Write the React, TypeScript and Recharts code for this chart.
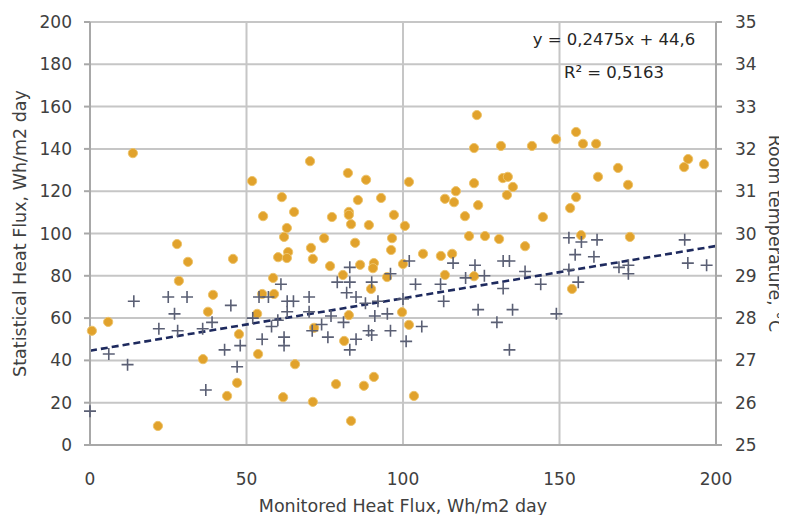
import React from "react";
import {
  ScatterChart,
  Scatter,
  XAxis,
  YAxis,
  CartesianGrid,
  ReferenceLine,
  Label,
} from "recharts";

// ---- data ----
const xTicks = [0, 50, 100, 150, 200];
const fluxTicks = [0, 20, 40, 60, 80, 100, 120, 140, 160, 180, 200];
const tempTicks = [25, 26, 27, 28, 29, 30, 31, 32, 33, 34, 35];

// Statistical heat flux (crosses), left axis
const monitoredCross = [
  0, 6, 12, 14, 22, 25, 27, 28, 31, 36, 39, 37, 43, 45, 48, 47, 52, 54, 57, 55, 58, 60, 61, 62, 62, 63, 65, 63,
  70, 70, 71, 74, 76, 77, 79, 81, 82, 83, 83, 85, 85, 83, 88, 89, 90, 90, 91, 92, 95, 96, 96, 100, 102, 101,
  104, 106, 112, 113, 116, 120, 123, 126, 124, 132, 132, 130, 134, 134, 135, 139, 144, 149, 153, 153, 156,
  155, 157, 162, 161, 169, 172, 172, 190, 191, 197,
];
const statisticalCross = [
  16, 43, 38, 68, 55, 70, 62, 54, 70, 55, 58, 26, 45, 66, 47, 37, 60, 70, 70, 50, 56, 59, 76, 51, 47, 68, 68, 63,
  70, 63, 54, 57, 51, 61, 77, 58, 72, 77, 84, 70, 50, 45, 67, 54, 52, 77, 61, 68, 62, 54, 81, 69, 87, 49,
  76, 56, 76, 68, 86, 79, 85, 80, 64, 74, 87, 58, 45, 87, 64, 82, 76, 62, 98, 83, 77,
  90, 96, 97, 89, 84, 85, 81, 97, 86, 85,
];

// Room temperature (dots), right axis
const monitoredDot = [
  0.6, 5.8, 13.7, 21.7, 27.8, 31.3, 28.4, 39.3, 37.7, 36.1, 45.7, 47.6, 47.0, 43.8, 51.8, 53.4, 53.7, 55.3,
  58.5, 55.0, 58.8, 61.3, 65.2, 62.9, 62.0, 60.1, 63.3, 62.9, 61.7, 65.5, 70.3, 70.6, 71.2, 71.6, 71.2, 74.8,
  76.7, 77.3, 80.8, 78.6, 81.2, 82.4, 82.7, 82.7, 83.4, 84.7, 82.7, 83.4, 85.6, 86.3, 88.2, 89.1, 90.7, 90.4,
  89.8, 87.5, 90.7, 93.0, 94.9, 96.2, 96.5, 97.1, 100.0, 99.7, 100.6, 101.9, 101.9, 103.5, 106.4, 112.1,
  113.4, 113.4, 116.3, 116.9, 115.7, 119.8, 121.1, 122.7, 123.6, 122.7, 124.0, 122.7, 126.2, 130.7, 131.3,
  131.9, 133.5, 133.2, 135.1, 141.2, 139.0, 144.7, 148.9, 153.4, 155.3, 155.3, 157.5, 161.7, 156.9, 154.0,
  162.3, 168.7, 171.9, 172.5, 191.1, 189.8, 196.2,
];
const roomTemp = [
  27.7, 27.91, 31.9, 25.45, 29.75, 29.33, 28.88, 28.55, 28.15, 27.03, 29.4, 27.62, 26.47, 26.16, 31.24, 28.1,
  27.15, 30.41, 28.95, 28.57, 28.57, 30.86, 30.51, 30.13, 29.92, 29.44, 29.56, 29.42, 26.13, 26.91, 31.71,
  29.66, 29.4, 27.77, 26.02, 29.89, 29.23, 30.39, 29.02, 26.44, 27.46, 31.43, 30.51, 30.44, 30.22, 29.78,
  28.07, 25.57, 30.79, 29.26, 31.27, 30.2, 29.3, 29.18, 28.69, 26.4, 26.61, 30.84, 28.97, 29.61, 29.89,
  30.44, 29.28, 28.14, 30.18, 31.22, 27.84, 26.16, 29.52, 29.47, 29.02, 30.82, 30.74, 31.0, 29.52, 30.41,
  29.94, 32.02, 32.8, 31.19, 30.67, 28.99, 29.94, 29.87, 32.07, 31.31, 31.34, 30.91, 31.1, 32.07, 29.7,
  30.39, 32.23, 30.6, 30.86, 32.4, 32.12, 32.12, 29.96, 28.69, 31.34, 31.55, 31.15, 29.92, 31.76, 31.57,
  31.64,
];

const trendSlope = 0.2475;
const trendIntercept = 44.6;
const equationText = "y = 0,2475x + 44,6";
const r2Text = "R\u00B2 = 0,5163";

const xTitle = "Monitored Heat Flux, Wh/m2 day";
const leftTitle = "Statistical Heat Flux, Wh/m2 day";
const rightTitle = "Room temperature, \u00B0C";

const crossData = monitoredCross.map((x, i) => ({ x, y: statisticalCross[i] }));
const dotData = monitoredDot.map((x, i) => ({ x, t: roomTemp[i] }));

const FONT = "DejaVu Sans";
const TXT = "#404040";
const GRID = "#C6C6C6";
const AXIS = "#A8A8A8";

const CrossShape = (props: any) => {
  const { cx, cy } = props;
  if (cx == null || cy == null) return null;
  const s = 6;
  return (
    <path
      d={`M${cx - s},${cy}H${cx + s}M${cx},${cy - s}V${cy + s}`}
      stroke="#5A5F74"
      strokeWidth={1.6}
      fill="none"
    />
  );
};

const DotShape = (props: any) => {
  const { cx, cy } = props;
  if (cx == null || cy == null) return null;
  return <circle cx={cx} cy={cy} r={4.6} fill="#E1A22C" stroke="#EDC36A" strokeWidth={1} />;
};

const tickStyle = { fill: TXT, fontSize: 17, fontFamily: FONT };

export default function App() {
  return (
    <div style={{ position: "relative", width: 779, height: 507, fontFamily: FONT }}>
      <ScatterChart width={779} height={507} margin={{ top: 14, right: 0, bottom: 0, left: 0 }}>
        <CartesianGrid
          yAxisId="left"
          stroke={GRID}
          strokeWidth={2}
          verticalValues={xTicks}
          horizontalValues={fluxTicks}
        />
        <XAxis
          type="number"
          dataKey="x"
          domain={[0, 200]}
          ticks={xTicks}
          tickLine={false}
          tickMargin={22}
          height={70}
          axisLine={{ stroke: AXIS, strokeWidth: 2 }}
          tick={tickStyle}
        >
          <Label
            content={(p: any) => {
              const vb = p.viewBox;
              return (
                <text
                  x={vb.x + vb.width / 2}
                  y={vb.y + 67}
                  textAnchor="middle"
                  fill={TXT}
                  fontSize={17.5}
                  fontFamily={FONT}
                >
                  {xTitle}
                </text>
              );
            }}
          />
        </XAxis>
        <YAxis
          yAxisId="left"
          type="number"
          dataKey="y"
          domain={[0, 200]}
          ticks={fluxTicks}
          width={82}
          tickSize={6}
          tickMargin={12}
          tickLine={{ stroke: AXIS, strokeWidth: 2 }}
          axisLine={{ stroke: AXIS, strokeWidth: 2 }}
          tick={tickStyle}
        >
          <Label
            content={(p: any) => {
              const vb = p.viewBox;
              const cx = vb.x + 12;
              const cy = vb.y + vb.height / 2;
              return (
                <text
                  x={cx}
                  y={cy}
                  transform={`rotate(-90, ${cx}, ${cy})`}
                  textAnchor="middle"
                  dominantBaseline="central"
                  fill={TXT}
                  fontSize={17.5}
                  fontFamily={FONT}
                >
                  {leftTitle}
                </text>
              );
            }}
          />
        </YAxis>
        <YAxis
          yAxisId="right"
          orientation="right"
          type="number"
          dataKey="t"
          domain={[25, 35]}
          ticks={tempTicks}
          width={71}
          tickSize={6}
          tickMargin={13}
          tickLine={{ stroke: AXIS, strokeWidth: 2 }}
          axisLine={{ stroke: AXIS, strokeWidth: 2 }}
          tick={tickStyle}
        >
          <Label
            content={(p: any) => {
              const vb = p.viewBox;
              const cx = vb.x + 59;
              const cy = vb.y + vb.height / 2;
              return (
                <text
                  x={cx}
                  y={cy}
                  transform={`rotate(90, ${cx}, ${cy})`}
                  textAnchor="middle"
                  dominantBaseline="central"
                  fill={TXT}
                  fontSize={17.5}
                  fontFamily={FONT}
                >
                  {rightTitle}
                </text>
              );
            }}
          />
        </YAxis>
        <Scatter
          yAxisId="right"
          data={dotData}
          dataKey="t"
          shape={DotShape}
          isAnimationActive={false}
        />
        <Scatter
          yAxisId="left"
          data={crossData}
          dataKey="y"
          shape={CrossShape}
          isAnimationActive={false}
        />
        <ReferenceLine
          yAxisId="left"
          segment={[
            { x: 0, y: trendIntercept },
            { x: 200, y: trendIntercept + trendSlope * 200 },
          ]}
          stroke="#1E2A5E"
          strokeWidth={2.6}
          strokeDasharray="7 4"
          ifOverflow="visible"
        />
      </ScatterChart>
      <svg
        width={779}
        height={507}
        style={{ position: "absolute", left: 0, top: 0, pointerEvents: "none" }}
      >
        <text x={606} y={37} textAnchor="middle" fill="#262626" fontSize={16.5} fontFamily={FONT}>
          {equationText}
        </text>
        <text x={606} y={70} textAnchor="middle" fill="#262626" fontSize={16.5} fontFamily={FONT}>
          {r2Text}
        </text>
      </svg>
    </div>
  );
}
